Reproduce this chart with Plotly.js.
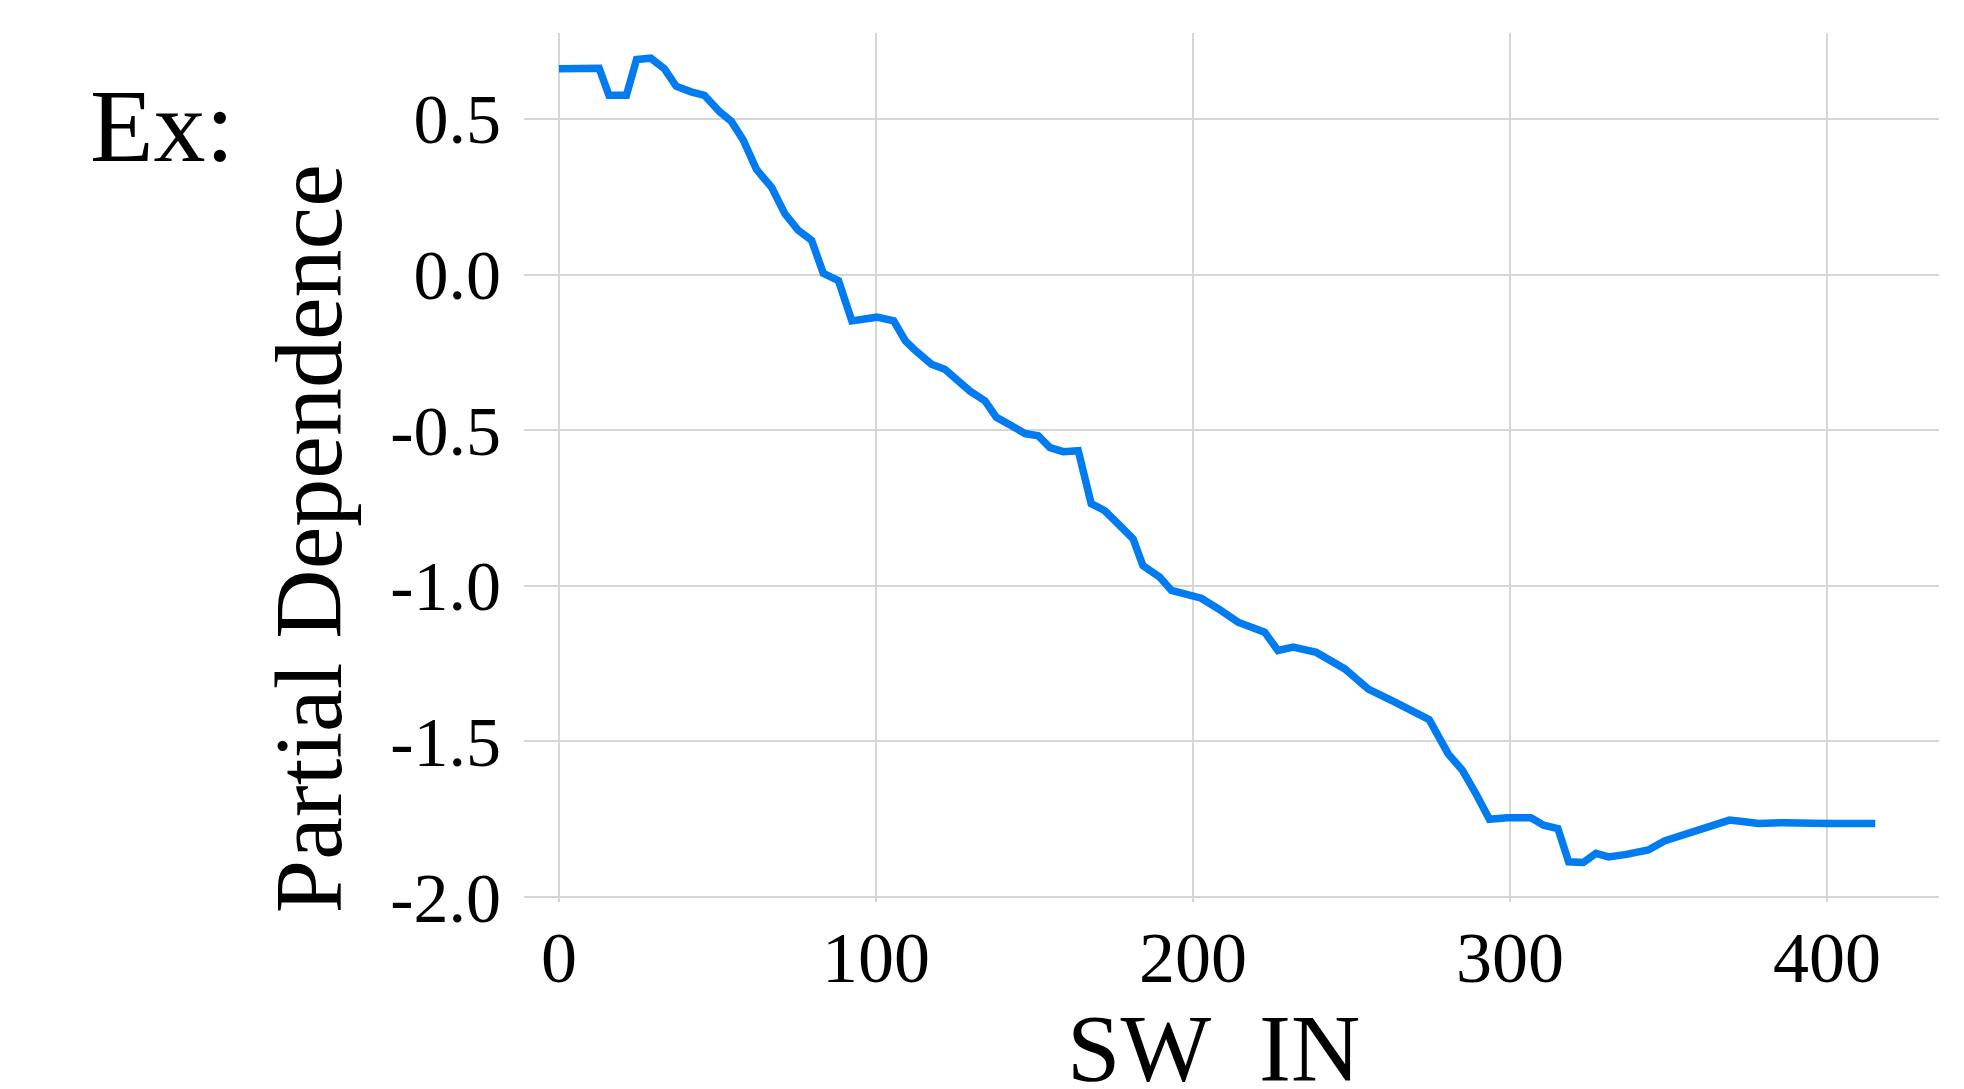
<!DOCTYPE html>
<html>
<head>
<meta charset="utf-8">
<script src="https://cdn.plot.ly/plotly-3.0.1.min.js"></script>
<style>html,body{margin:0;padding:0;background:#fff;}#chart{width:1964px;height:1089px;}</style>
</head>
<body>
<div id="chart"></div>
<script>
// SW_IN values (x) and partial dependence (y)
const swIn = [0, 12.7, 15.8, 21.3, 24.5, 29.0, 33.3, 37.0, 41.7, 45.9, 50.7, 54.4, 58.1, 62.3, 67.1, 71.3, 75.5, 79.7, 83.4, 88.2,
  92.4, 97.7, 100.3, 105.6, 109.3, 112.0, 117.5, 121.7, 125.4, 129.6, 134.4, 138.0, 142.8, 147.0, 151.2, 154.9, 159.1, 163.8,
  167.9, 172.1, 175.8, 181.1, 184.2, 189.5, 193.2, 200.0, 202.6, 208.9, 214.2, 222.6, 226.8, 231.6, 238.9, 247.9, 255.3, 263.7,
  271.1, 274.5, 280.5, 285.0, 289.5, 293.5, 299.2, 306.6, 310.6, 315.1, 318.5, 323.1, 327.1, 331.1, 336.7, 343.6, 348.7,
  356.1, 361.2, 369.2, 374.0, 378.3, 386.3, 391.4, 400.5, 415.2];
const partialDep = [0.661, 0.663, 0.576, 0.576, 0.691, 0.695, 0.661, 0.605, 0.587, 0.576, 0.523, 0.492, 0.433, 0.338, 0.280, 0.195, 0.142, 0.110, 0.004, -0.020,
  -0.149, -0.139, -0.137, -0.149, -0.213, -0.240, -0.288, -0.304, -0.336, -0.374, -0.406, -0.459, -0.486, -0.511, -0.518, -0.556, -0.569, -0.566,
  -0.736, -0.758, -0.795, -0.849, -0.935, -0.972, -1.015, -1.031, -1.040, -1.080, -1.117, -1.149, -1.208, -1.197, -1.214, -1.267, -1.332, -1.374,
  -1.412, -1.430, -1.540, -1.593, -1.673, -1.750, -1.745, -1.745, -1.769, -1.780, -1.887, -1.889, -1.860, -1.871, -1.863, -1.849, -1.820,
  -1.796, -1.775, -1.753, -1.758, -1.764, -1.761, -1.764, -1.764, -1.764];

const xTickVals = [0, 100, 200, 300, 400];
const xTickText = ["0", "100", "200", "300", "400"];
const yTickVals = [0.5, 0.0, -0.5, -1.0, -1.5, -2.0];
const yTickText = ["0.5", "0.0", "-0.5", "-1.0", "-1.5", "-2.0"];

const xTitle = "SW\u2002IN";
const yTitle = "Partial Dependence";
const panelLabel = "Ex:";

const FONT = "Liberation Serif, Times New Roman, serif";

const trace = {
  x: swIn, y: partialDep, type: "scatter", mode: "lines",
  line: {color: "rgb(0,124,240)", width: 7.5},
  hoverinfo: "skip", showlegend: false
};

const layout = {
  width: 1964, height: 1089,
  margin: {l: 524, r: 25, t: 33, b: 187, pad: 0},
  paper_bgcolor: "#ffffff", plot_bgcolor: "#ffffff",
  font: {family: FONT, color: "#000000"},
  xaxis: {
    range: [-11, 435.3], tickmode: "array", tickvals: xTickVals, ticktext: xTickText,
    showgrid: true, gridcolor: "#d6d6d6", gridwidth: 2, zeroline: false, showline: false,
    ticks: "", ticklabelstandoff: 7, tickfont: {family: FONT, size: 72, color: "#000"}
  },
  yaxis: {
    range: [-2.016, 0.776], tickmode: "array", tickvals: yTickVals, ticktext: yTickText,
    showgrid: true, gridcolor: "#d6d6d6", gridwidth: 2, zeroline: false, showline: false,
    ticks: "", ticklabelstandoff: 22, tickfont: {family: FONT, size: 70, color: "#000"}
  },
  annotations: [
    {text: xTitle, xref: "paper", yref: "paper", x: 0.4876, y: -0.1686, xanchor: "center", yanchor: "middle",
     showarrow: false, font: {family: FONT, size: 96, color: "#000"}},
    {text: yTitle, xref: "paper", yref: "paper", x: -0.1525, y: 0.4177, xanchor: "center", yanchor: "middle",
     textangle: -90, showarrow: false, font: {family: FONT, size: 96, color: "#000"}},
    {text: panelLabel, xref: "paper", yref: "paper", x: -0.2558, y: 0.893, xanchor: "center", yanchor: "middle",
     showarrow: false, font: {family: FONT, size: 104, color: "#000"}}
  ]
};

Plotly.newPlot("chart", [trace], layout, {staticPlot: true, displayModeBar: false});
</script>
</body>
</html>
